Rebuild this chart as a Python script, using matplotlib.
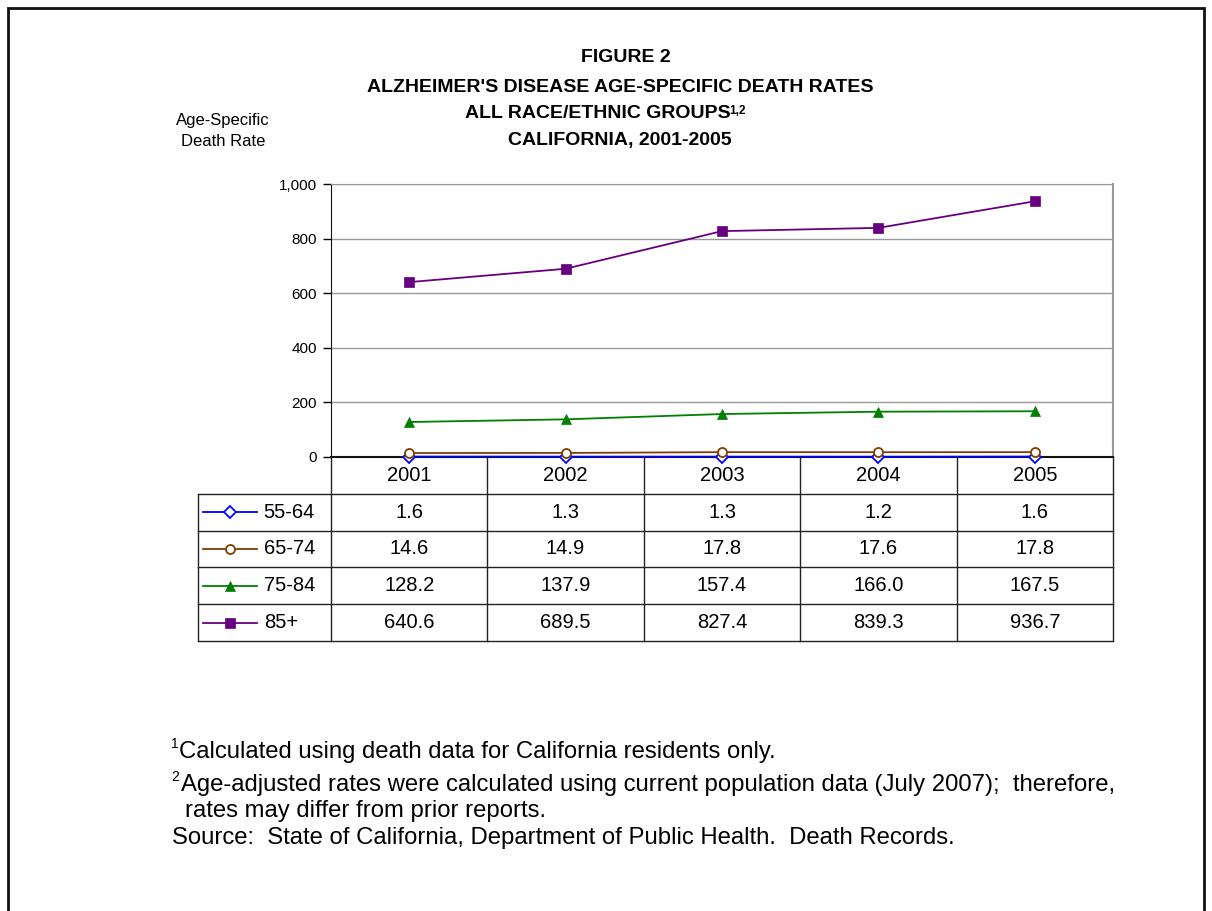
import matplotlib.pyplot as plt
from matplotlib.patches import Rectangle
from matplotlib.lines import Line2D

plt.rcParams['font.family'] = ['Liberation Sans', 'DejaVu Sans']

years = ['2001', '2002', '2003', '2004', '2005']
groups = ['55-64', '65-74', '75-84', '85+']
rate_55_64 = [1.6, 1.3, 1.3, 1.2, 1.6]
rate_65_74 = [14.6, 14.9, 17.8, 17.6, 17.8]
rate_75_84 = [128.2, 137.9, 157.4, 166.0, 167.5]
rate_85_up = [640.6, 689.5, 827.4, 839.3, 936.7]
yticks = [0, 200, 400, 600, 800, 1000]

rates = [rate_55_64, rate_65_74, rate_75_84, rate_85_up]
styles = [
    dict(color='#0000FF', marker='D', ms=6, mfc='white', mew=1.3),
    dict(color='#7F3F00', marker='o', ms=6.5, mfc='white', mew=1.3),
    dict(color='#008000', marker='^', ms=7.5, mfc='#008000', mew=0.5),
    dict(color='#660080', marker='s', ms=6.5, mfc='#660080', mew=0.5),
]

W, H = 1212, 911
fig = plt.figure(figsize=(W / 100, H / 100), dpi=100)


def px(x, y):
    return x / W, 1 - y / H


# outer frame
fig.patches.append(Rectangle(px(8, 930), (1204 - 8) / W, (930 - 8) / H,
                             transform=fig.transFigure, fill=False,
                             ec='#111111', lw=2))

# ---- line chart ----
ax = fig.add_axes([331 / W, 1 - 457 / H, 782 / W, 273 / H])
x = list(range(len(years)))
for vals, st in zip(rates, styles):
    ax.plot(x, vals, lw=1.3, zorder=3, clip_on=False, **st)

ax.set_xlim(-0.5, 4.5)
ax.set_ylim(0, 1000)
ax.set_yticks(yticks)
ax.set_yticklabels(['{:,}'.format(v) for v in yticks], fontsize=11)
ax.set_xticks([])
ax.tick_params(axis='y', direction='out', length=6, width=1, pad=4)
ax.grid(axis='y', color='#999999', lw=1)
ax.set_axisbelow(True)
ax.spines['top'].set_color('#999999')
ax.spines['right'].set_color('#999999')
ax.spines['right'].set_linewidth(1.5)
ax.spines['left'].set_color('#111111')
ax.spines['bottom'].set_color('#111111')
ax.spines['bottom'].set_linewidth(1.5)

# ---- data table under the chart ----
tb = fig.add_axes([331 / W, 1 - 641 / H, 782 / W, 184 / H])
tb.set_xlim(-0.5, 4.5)
tb.set_ylim(5, 0)
tb.axis('off')
lx = -0.5 - 133 / 156.4
lc = '#222222'
tfs = 14.5
for r in range(1, 6):
    tb.plot([lx, 4.5], [r, r], color=lc, lw=1, clip_on=False)
for c in range(6):
    tb.plot([c - 0.5, c - 0.5], [0, 5], color=lc, lw=1, clip_on=False)
tb.plot([lx, lx], [1, 5], color=lc, lw=1, clip_on=False)

for i, yr in enumerate(years):
    tb.text(i, 0.5, yr, ha='center', va='center', fontsize=tfs)
for r, (name, vals, st) in enumerate(zip(groups, rates, styles), start=1):
    for i, v in enumerate(vals):
        tb.text(i, r + 0.5, '{:.1f}'.format(v), ha='center', va='center',
                fontsize=tfs)
    tb.add_line(Line2D([lx + 0.03, lx + 0.38], [r + 0.5, r + 0.5], lw=1.3,
                       color=st['color'], clip_on=False))
    tb.plot([lx + 0.205], [r + 0.5], clip_on=False, ls='none', **st)
    tb.text(lx + 0.42, r + 0.5, name, ha='left', va='center', fontsize=tfs)

# ---- titles ----
hfs = 14
fig.text(*px(626, 58), 'FIGURE 2', ha='center', va='center',
         fontsize=hfs, fontweight='bold')
fig.text(*px(620, 87), "ALZHEIMER'S DISEASE AGE-SPECIFIC DEATH RATES",
         ha='center', va='center', fontsize=hfs, fontweight='bold')
t3 = fig.text(*px(598, 113), 'ALL RACE/ETHNIC GROUPS', ha='center',
              va='center', fontsize=hfs, fontweight='bold')
ax.annotate('1,2', xy=(1, 1), xycoords=t3, xytext=(-1, 0),
            textcoords='offset points', ha='left', va='top',
            fontsize=8.5, fontweight='bold', annotation_clip=False)
fig.text(*px(620, 140), 'CALIFORNIA, 2001-2005', ha='center', va='center',
         fontsize=hfs, fontweight='bold')

fig.text(*px(223, 121), 'Age-Specific', ha='center', va='center', fontsize=12)
fig.text(*px(223, 141), 'Death Rate', ha='center', va='center', fontsize=12)

# ---- footnotes ----
fs = 17.2
fig.text(*px(171, 744), '1', fontsize=10, ha='left', va='center')
fig.text(*px(179, 752), 'Calculated using death data for California residents only.',
         fontsize=fs, ha='left', va='center')
fig.text(*px(171, 777), '2', fontsize=10, ha='left', va='center')
fig.text(*px(181, 785),
         'Age-adjusted rates were calculated using current population data '
         '(July 2007);  therefore,', fontsize=fs, ha='left', va='center')
fig.text(*px(185, 811), 'rates may differ from prior reports.',
         fontsize=fs, ha='left', va='center')
fig.text(*px(172, 838),
         'Source:  State of California, Department of Public Health.  Death Records.',
         fontsize=fs, ha='left', va='center')

fig.savefig('out.png', dpi=100)
